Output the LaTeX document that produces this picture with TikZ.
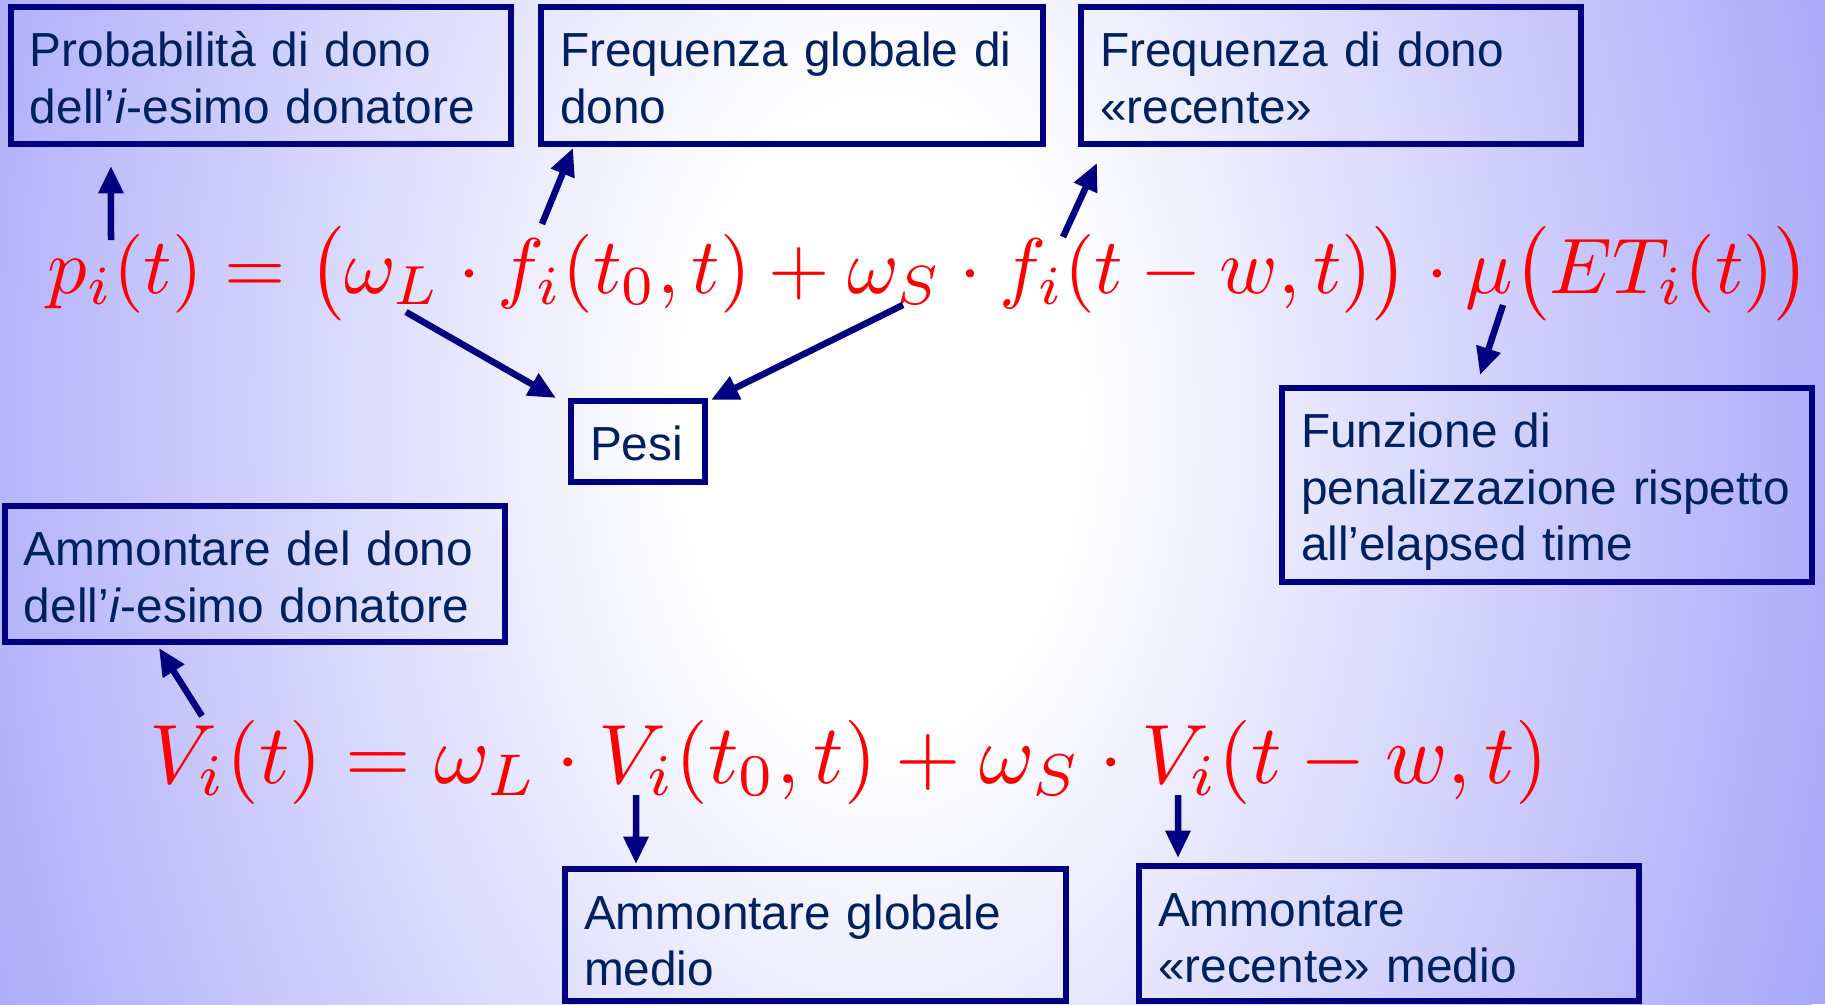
\documentclass[tikz,border=0pt]{standalone}
\usepackage[no-math]{fontspec}
\setmainfont{Liberation Sans}
\usepackage{graphicx}
\usetikzlibrary{arrows.meta,positioning}

\definecolor{boxBlue}{RGB}{0,0,128}
\definecolor{textBlue}{RGB}{0,32,96}
\definecolor{bgBlue}{RGB}{168,168,250}
\definecolor{formulaRed}{RGB}{255,0,0}
\pgfdeclareradialshading{slideGlow}{\pgfpoint{0bp}{0bp}}{color(0bp)=(white); color(5bp)=(white); color(25bp)=(bgBlue); color(50bp)=(bgBlue)}

\begin{document}
\begin{tikzpicture}[x=0.02cm, y=-0.02cm,
  labelbox/.style={rectangle, draw=boxBlue, line width=3.7pt, text=textBlue, align=left, anchor=north west, outer sep=0pt, inner xsep=0.38cm, inner ysep=0pt, font=\fontsize{27.2}{31.9}\selectfont, text height=1.2cm},
  pointer/.style={draw=boxBlue, line width=3.7pt, -{Triangle[width=0.48cm, length=0.55cm]}},
  formula/.style={text=formulaRed, inner sep=0pt, anchor=base west}]

\useasboundingbox (0,0) rectangle (1825,1004);
\fill[bgBlue] (0,0) rectangle (1825,1004);
\begin{scope}
\clip (0,0) rectangle (1825,1004);
\shade[shading=slideGlow] (880,420) ellipse [x radius=1000, y radius=1600];
\end{scope}

\node[labelbox, text width=9.24cm, text depth=1.54cm](probDono) at (11,7){Probabilità di dono\\dell’\textit{i}-esimo donatore};
\node[labelbox, text width=9.28cm, text depth=1.54cm](freqGlob) at (541,7){Frequenza globale di\\dono};
\node[labelbox, text width=9.24cm, text depth=1.54cm](freqRec) at (1081,7){Frequenza di dono\\«recente»};
\node[labelbox, text width=1.92cm, text depth=0.42cm](pesi) at (571,401){Pesi};
\node[labelbox, text width=9.84cm, text depth=2.68cm](penal) at (1282,388){Funzione di\\penalizzazione rispetto\\all’elapsed time};
\node[labelbox, text width=9.24cm, text depth=1.52cm](ammDono) at (5,506){Ammontare del dono\\dell’\textit{i}-esimo donatore};
\node[labelbox, text width=9.26cm, text depth=1.44cm](ammGlob) at (565,869){Ammontare globale\\medio};
\node[labelbox, text width=9.24cm, text depth=1.5cm](ammRec) at (1139,866){Ammontare\\«recente» medio};

\node[formula](pFormula) at (47,293){\resizebox{35.26cm}{!}{$p_i(t) = \bigl(\omega_L\cdot f_i(t_0,t)+\omega_S\cdot f_i(t-w,t)\bigr)\cdot\mu\bigl(ET_i(t)\bigr)$}};
\node[formula](vFormula) at (149,783){\resizebox{27.98cm}{!}{$V_i(t) = \omega_L\cdot V_i(t_0,t)+\omega_S\cdot V_i(t-w,t)$}};

% tails on the formulas
\coordinate (pTail) at (111,240);
\coordinate (fGlobTail) at (542,224);
\coordinate (fRecTail) at (1063,237);
\coordinate (omegaLTail) at (406,312);
\coordinate (omegaSTail) at (903,305);
\coordinate (muTail) at (1503,305);
\coordinate (vTail) at (202,716);
\coordinate (vGlobTail) at (636,795);
\coordinate (vRecTail) at (1178,795);

% heads next to the boxes
\coordinate (probDonoTip) at ([xshift=2cm, yshift=-0.44cm] probDono.south west);
\coordinate (freqGlobTip) at ([xshift=0.64cm, yshift=-0.08cm] freqGlob.south west);
\coordinate (freqRecTip) at ([xshift=0.32cm, yshift=-0.38cm] freqRec.south west);
\coordinate (pesiLeftTip) at ([xshift=-0.3cm, yshift=0.06cm] pesi.north west);
\coordinate (pesiRightTip) at ([xshift=0.12cm, yshift=0.02cm] pesi.north east);
\coordinate (penalTip) at ([xshift=3.96cm, yshift=0.26cm] penal.north west);
\coordinate (ammDonoTip) at ([xshift=3.08cm, yshift=-0.12cm] ammDono.south west);
\coordinate (ammGlobTip) at ([xshift=1.42cm, yshift=0.1cm] ammGlob.north west);
\coordinate (ammRecTip) at ([xshift=0.78cm, yshift=0.16cm] ammRec.north west);

\draw[pointer] (pTail) -- (probDonoTip);
\draw[pointer] (fGlobTail) -- (freqGlobTip);
\draw[pointer] (fRecTail) -- (freqRecTip);
\draw[pointer] (omegaLTail) -- (pesiLeftTip);
\draw[pointer] (omegaSTail) -- (pesiRightTip);
\draw[pointer] (muTail) -- (penalTip);
\draw[pointer] (vTail) -- (ammDonoTip);
\draw[pointer] (vGlobTail) -- (ammGlobTip);
\draw[pointer] (vRecTail) -- (ammRecTip);

\end{tikzpicture}
\end{document}
